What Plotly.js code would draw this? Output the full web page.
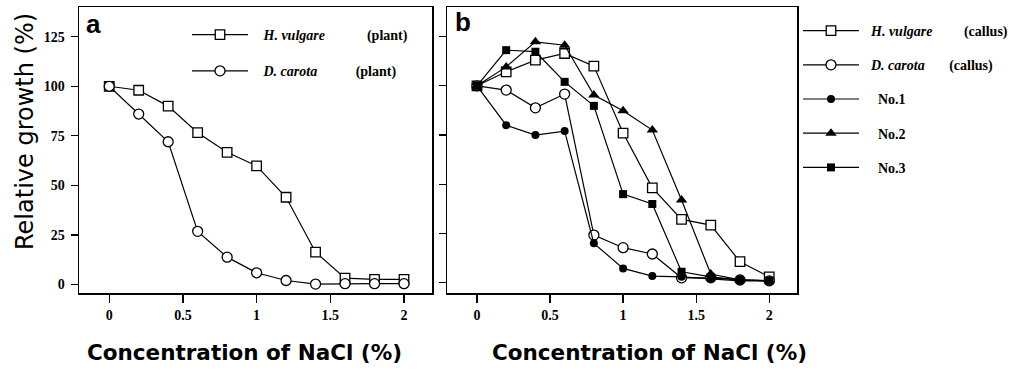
<!DOCTYPE html>
<html>
<head>
<meta charset="utf-8">
<script src="https://cdn.plot.ly/plotly-3.0.1.min.js"></script>
<style>
html,body{margin:0;padding:0;background:#ffffff;}
#chart{width:1028px;height:374px;}
</style>
</head>
<body>
<div id="chart"></div>
<script>
// NaCl concentration (%)
const nacl = [0, 0.2, 0.4, 0.6, 0.8, 1.0, 1.2, 1.4, 1.6, 1.8, 2.0];

// Panel a: whole plants, relative growth (%)
const hvPlant = [100, 98, 90, 76.6, 66.7, 59.8, 44, 16.3, 3.2, 2.6, 2.6];
const dcPlant = [100, 86, 72, 26.8, 13.8, 5.9, 2, 0.2, 0.4, 0.4, 0.4];

// Panel b: callus, relative growth (%)
const hvCallus = [100, 107.1, 113, 116.4, 110, 76, 48.2, 32.2, 29.3, 10.7, 3];
const dcCallus = [100, 97.8, 88.8, 95.8, 24.2, 17.8, 14.6, 2.5, 2.5, 1.4, 1];
const no1 = [100, 80, 75, 77, 20, 7.3, 3.4, 3, 2, 1, 1];
const no2 = [100, 109.6, 122.3, 120.6, 95.3, 87.3, 77.5, 42, 4.4, 1.5, 1];
const no3 = [100, 118.1, 117.3, 102, 89.8, 45, 40, 5.6, 3, 1.5, 1];

// Labels
const namesA = ['<i>H. vulgare</i>', '<i>D. carota</i>'];
const suffixA = ['(plant)', '(plant)'];
const namesB = ['<i>H. vulgare</i>', '<i>D. carota</i>', 'No.1', 'No.2', 'No.3'];
const suffixB = ['(callus)', '(callus)', '', '', ''];
const xTicks = [0, 0.5, 1, 1.5, 2];
const xTickText = ['0', '0.5', '1', '1.5', '2'];
const yTicks = [0, 25, 50, 75, 100, 125];
const yTickText = ['0', '25', '50', '75', '100', '125'];

const NB = '\u00a0';
function pad(n){ return NB.repeat(n); }

const lineStyle = {color: '#000000', width: 1.2};
const openSq = {symbol: 'square', size: 9.5, color: '#ffffff', line: {color: '#000000', width: 1.3}};
const openCi = {symbol: 'circle', size: 10, color: '#ffffff', line: {color: '#000000', width: 1.3}};
const fillCi = {symbol: 'circle', size: 8, color: '#000000', line: {color: '#000000', width: 0}};
const fillTr = {symbol: 'triangle-up', size: 10, color: '#000000', line: {color: '#000000', width: 0}};
const fillSq = {symbol: 'square', size: 8, color: '#000000', line: {color: '#000000', width: 0}};

function tr(y, name, marker, xa, ya, leg, grp){
  return {x: nacl, y: y, name: name, type: 'scatter', mode: 'lines+markers',
    line: lineStyle, marker: marker, xaxis: xa, yaxis: ya, legend: leg,
    legendgroup: grp, cliponaxis: false};
}

const data = [
  tr(hvPlant, pad(3) + namesA[0] + pad(12) + suffixA[0], openSq, 'x', 'y', 'legend', 'a1'),
  tr(dcPlant, pad(3) + namesA[1] + pad(11) + suffixA[1], openCi, 'x', 'y', 'legend', 'a2'),
  tr(hvCallus, pad(2) + namesB[0] + pad(9) + suffixB[0], openSq, 'x2', 'y2', 'legend2', 'b1'),
  tr(dcCallus, pad(2) + namesB[1] + pad(7) + suffixB[1], openCi, 'x2', 'y2', 'legend2', 'b2'),
  tr(no1, pad(4) + namesB[2], fillCi, 'x2', 'y2', 'legend2', 'b3'),
  tr(no2, pad(4) + namesB[3], fillTr, 'x2', 'y2', 'legend2', 'b4'),
  tr(no3, pad(4) + namesB[4], fillSq, 'x2', 'y2', 'legend2', 'b5')
];

const tickFont = {family: 'Liberation Serif, Times New Roman, serif', size: 14, color: '#000000', weight: 'bold'};
const yDom = [(374 - 293) / 374, (374 - 7) / 374];

function xAxis(dom, anchor){
  return {domain: dom, anchor: anchor, range: [-0.205, 2.19], tickvals: xTicks, ticktext: xTickText,
    ticks: 'outside', ticklen: 8, tickwidth: 1.3, tickcolor: '#000000',
    showline: true, mirror: true, linecolor: '#000000', linewidth: 1.5,
    showgrid: false, zeroline: false, tickfont: tickFont, ticklabelstandoff: 1, fixedrange: true};
}
function yAxis(anchor, range, labels){
  return {domain: yDom, anchor: anchor, range: range, tickvals: yTicks, ticktext: yTickText,
    ticks: 'outside', ticklen: 7, tickwidth: 1.3, tickcolor: '#000000',
    showline: true, mirror: true, linecolor: '#000000', linewidth: 1.5,
    showgrid: false, zeroline: false, tickfont: tickFont, showticklabels: labels,
    ticklabelstandoff: 3, fixedrange: true};
}

const legFont = {family: 'Liberation Serif, Times New Roman, serif', size: 14, color: '#000000', weight: 'bold'};

const layout = {
  width: 1028, height: 374,
  margin: {l: 0, r: 0, t: 0, b: 0},
  paper_bgcolor: '#ffffff', plot_bgcolor: '#ffffff',
  xaxis: xAxis([79 / 1028, 432 / 1028], 'y'),
  yaxis: yAxis('x', [-4.3, 140], true),
  xaxis2: xAxis([447 / 1028, 797 / 1028], 'y2'),
  yaxis2: yAxis('x2', [-5.2, 140], false),
  legend: {x: 187 / 1028, y: (374 - 19) / 374, xanchor: 'left', yanchor: 'top',
    bgcolor: 'rgba(0,0,0,0)', borderwidth: 0, font: legFont, itemwidth: 56,
    traceorder: 'grouped', tracegroupgap: 15, itemclick: false, itemdoubleclick: false},
  legend2: {x: 798 / 1028, y: (374 - 15) / 374, xanchor: 'left', yanchor: 'top',
    bgcolor: 'rgba(0,0,0,0)', borderwidth: 0, font: legFont, itemwidth: 56,
    traceorder: 'grouped', tracegroupgap: 13, itemclick: false, itemdoubleclick: false},
  annotations: [
    {text: 'a', xref: 'paper', yref: 'paper', x: 84 / 1028, y: (374 - 24) / 374,
      xanchor: 'left', yanchor: 'middle', showarrow: false,
      font: {family: 'Liberation Sans, Arial, sans-serif', size: 26, color: '#000000', weight: 'bold'}},
    {text: 'b', xref: 'paper', yref: 'paper', x: 453 / 1028, y: (374 - 22) / 374,
      xanchor: 'left', yanchor: 'middle', showarrow: false,
      font: {family: 'Liberation Sans, Arial, sans-serif', size: 26, color: '#000000', weight: 'bold'}},
    {text: 'Relative growth (%)', xref: 'paper', yref: 'paper', x: 25 / 1028, y: (374 - 132) / 374,
      xanchor: 'center', yanchor: 'middle', textangle: -90, showarrow: false,
      font: {family: 'DejaVu Sans, sans-serif', size: 24, color: '#000000'}},
    {text: 'Concentration of NaCl (%)', xref: 'paper', yref: 'paper', x: 244 / 1028, y: (374 - 352) / 374,
      xanchor: 'center', yanchor: 'middle', showarrow: false,
      font: {family: 'DejaVu Sans, sans-serif', size: 21.5, color: '#000000', weight: 'bold'}},
    {text: 'Concentration of NaCl (%)', xref: 'paper', yref: 'paper', x: 649 / 1028, y: (374 - 352) / 374,
      xanchor: 'center', yanchor: 'middle', showarrow: false,
      font: {family: 'DejaVu Sans, sans-serif', size: 21.5, color: '#000000', weight: 'bold'}}
  ],
  showlegend: true
};

Plotly.newPlot('chart', data, layout, {displayModeBar: false, staticPlot: true});
</script>
</body>
</html>
